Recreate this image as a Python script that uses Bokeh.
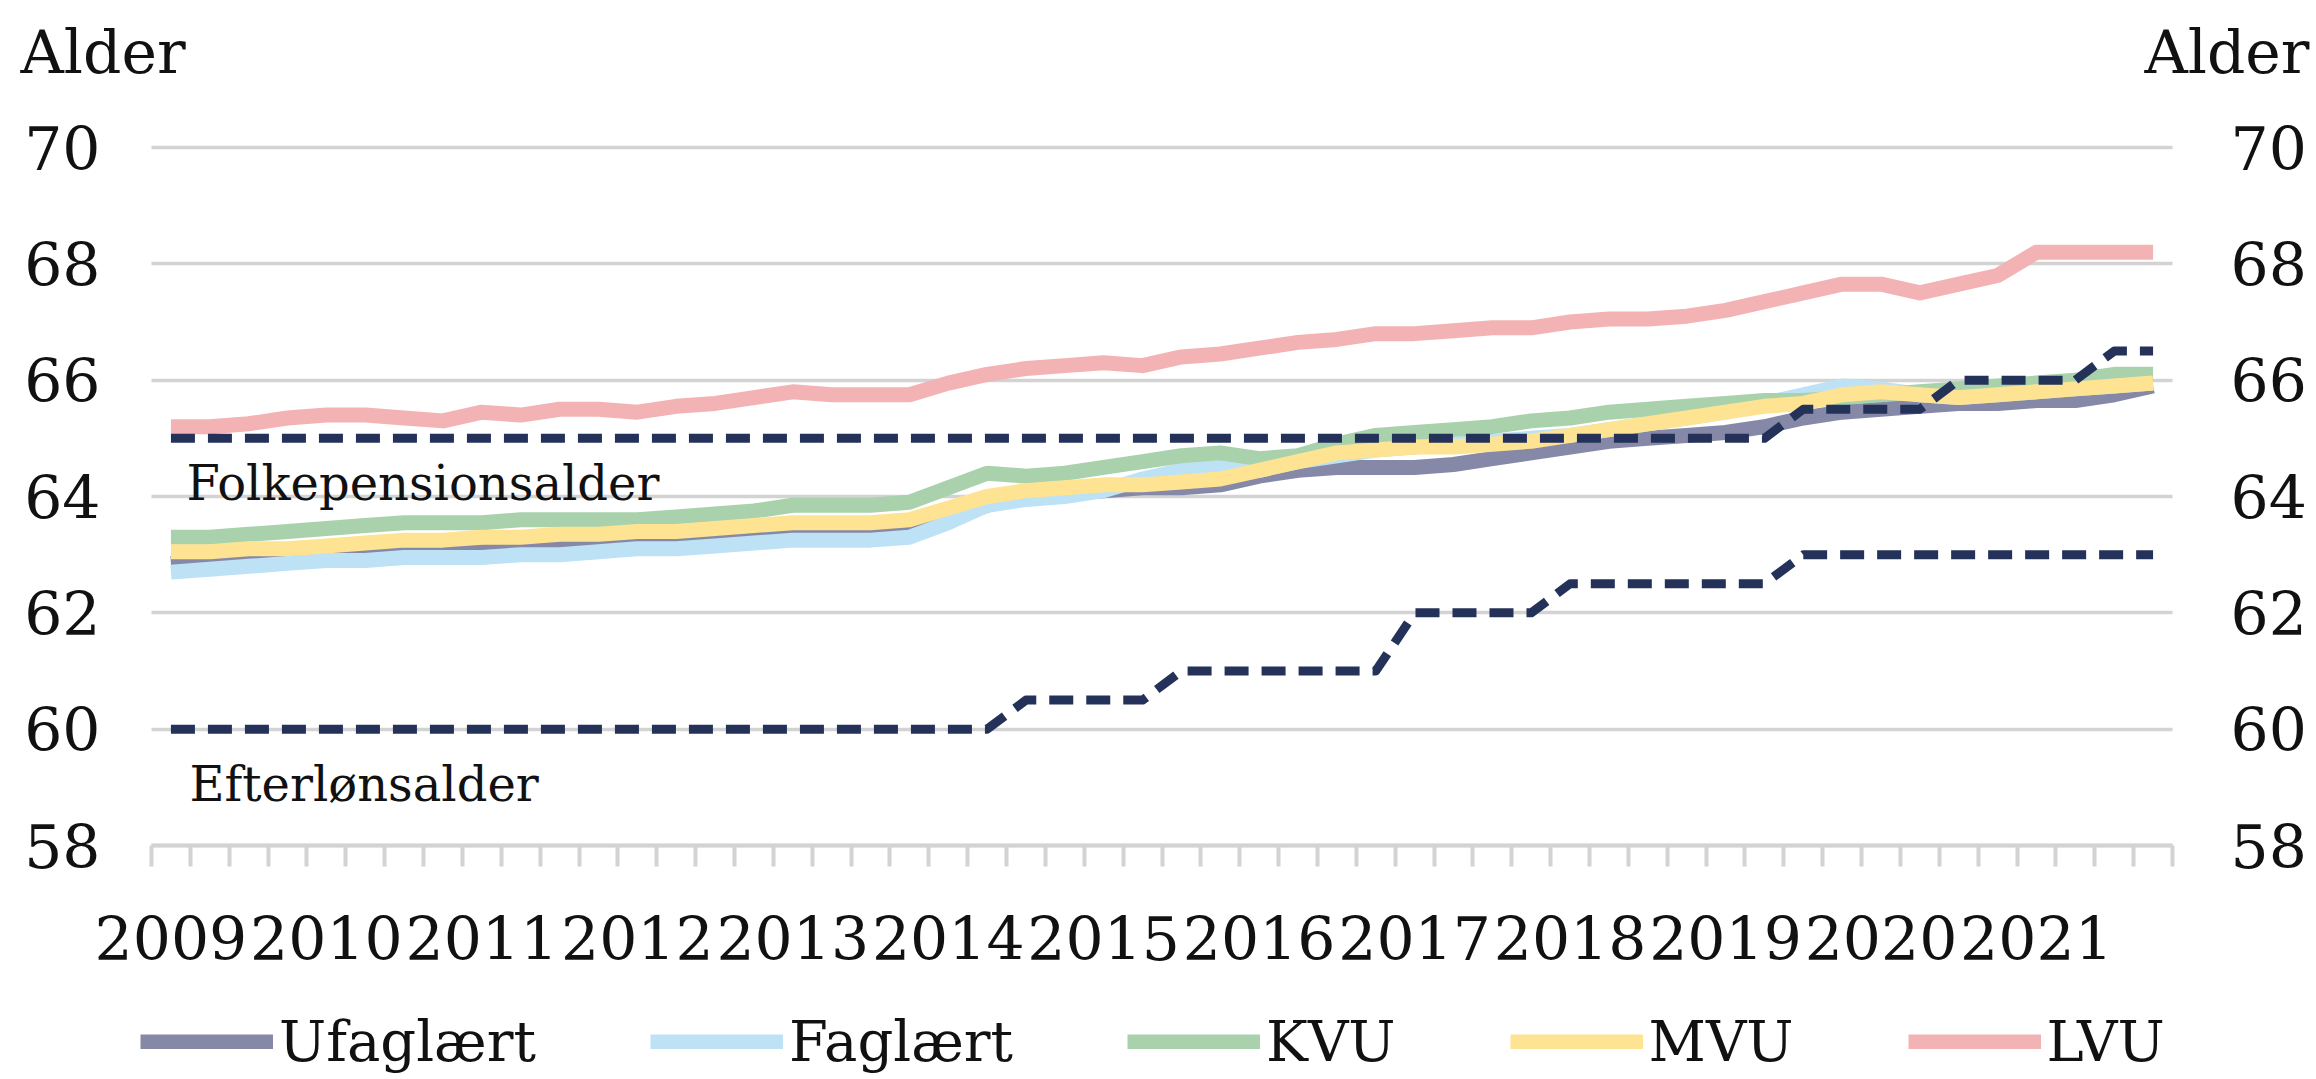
from bokeh.plotting import figure
from bokeh.models import Range1d, LinearAxis, FixedTicker, Label, Legend, LegendItem, Grid
from bokeh.embed import file_html
from bokeh.resources import INLINE

# ---------------- data ----------------
years = ["2009", "2010", "2011", "2012", "2013", "2014", "2015",
         "2016", "2017", "2018", "2019", "2020", "2021"]
quarters = [f"{y}K{q}" for y in years for q in (1, 2, 3, 4)]

ufaglaert = [62.85, 62.9, 62.95, 63.0, 63.05, 63.05, 63.05, 63.05, 63.05, 63.1,
             63.15, 63.2, 63.2, 63.25, 63.25, 63.3, 63.35, 63.35, 63.35, 63.4,
             63.6, 63.85, 64.0, 64.05, 64.1, 64.15, 64.15, 64.2, 64.35, 64.45,
             64.5, 64.5, 64.5, 64.55, 64.65, 64.75, 64.85, 64.95, 65.0, 65.05,
             65.1, 65.2, 65.35, 65.45, 65.5, 65.55, 65.6, 65.6, 65.65, 65.65,
             65.75, 65.9]
faglaert = [62.7, 62.75, 62.8, 62.85, 62.9, 62.9, 62.95, 62.95, 62.95, 63.0,
            63.0, 63.05, 63.1, 63.1, 63.15, 63.2, 63.25, 63.25, 63.25, 63.3,
            63.55, 63.85, 63.95, 64.0, 64.1, 64.3, 64.45, 64.5, 64.45, 64.6,
            64.7, 64.8, 64.85, 64.9, 64.95, 65.0, 65.05, 65.15, 65.25, 65.35,
            65.45, 65.6, 65.75, 65.9, 65.85, 65.75, 65.7, 65.75, 65.8, 65.85,
            65.9, 65.95]
kvu = [63.3, 63.3, 63.35, 63.4, 63.45, 63.5, 63.55, 63.55, 63.55, 63.6,
       63.6, 63.6, 63.6, 63.65, 63.7, 63.75, 63.85, 63.85, 63.85, 63.9,
       64.15, 64.4, 64.35, 64.4, 64.5, 64.6, 64.7, 64.75, 64.65, 64.7,
       64.9, 65.05, 65.1, 65.15, 65.2, 65.3, 65.35, 65.45, 65.5, 65.55,
       65.6, 65.65, 65.65, 65.7, 65.75, 65.8, 65.85, 65.9, 65.95, 66.0,
       66.1, 66.1]
mvu = [63.05, 63.05, 63.1, 63.1, 63.15, 63.2, 63.25, 63.25, 63.3, 63.3,
       63.35, 63.35, 63.4, 63.4, 63.45, 63.5, 63.55, 63.55, 63.55, 63.6,
       63.8, 64.0, 64.1, 64.15, 64.2, 64.2, 64.25, 64.3, 64.45, 64.6,
       64.75, 64.8, 64.85, 64.85, 64.9, 64.95, 65.05, 65.15, 65.25, 65.35,
       65.45, 65.55, 65.6, 65.75, 65.8, 65.75, 65.7, 65.75, 65.8, 65.85,
       65.9, 65.95]
lvu = [65.2, 65.2, 65.25, 65.35, 65.4, 65.4, 65.35, 65.3, 65.45, 65.4,
       65.5, 65.5, 65.45, 65.55, 65.6, 65.7, 65.8, 65.75, 65.75, 65.75,
       65.95, 66.1, 66.2, 66.25, 66.3, 66.25, 66.4, 66.45, 66.55, 66.65,
       66.7, 66.8, 66.8, 66.85, 66.9, 66.9, 67.0, 67.05, 67.05, 67.1,
       67.2, 67.35, 67.5, 67.65, 67.65, 67.5, 67.65, 67.8, 68.2, 68.2,
       68.2, 68.2]
folkepensionsalder = [65.0, 65.0, 65.0, 65.0, 65.0, 65.0, 65.0, 65.0, 65.0, 65.0,
                      65.0, 65.0, 65.0, 65.0, 65.0, 65.0, 65.0, 65.0, 65.0, 65.0,
                      65.0, 65.0, 65.0, 65.0, 65.0, 65.0, 65.0, 65.0, 65.0, 65.0,
                      65.0, 65.0, 65.0, 65.0, 65.0, 65.0, 65.0, 65.0, 65.0, 65.0,
                      65.0, 65.0, 65.5, 65.5, 65.5, 65.5, 66.0, 66.0, 66.0, 66.0,
                      66.5, 66.5]
efterloensalder = [60.0, 60.0, 60.0, 60.0, 60.0, 60.0, 60.0, 60.0, 60.0, 60.0,
                   60.0, 60.0, 60.0, 60.0, 60.0, 60.0, 60.0, 60.0, 60.0, 60.0,
                   60.0, 60.0, 60.5, 60.5, 60.5, 60.5, 61.0, 61.0, 61.0, 61.0,
                   61.0, 61.0, 62.0, 62.0, 62.0, 62.0, 62.5, 62.5, 62.5, 62.5,
                   62.5, 62.5, 63.0, 63.0, 63.0, 63.0, 63.0, 63.0, 63.0, 63.0,
                   63.0, 63.0]
y_ticks = [58, 60, 62, 64, 66, 68, 70]

series_names = ["Ufaglært", "Faglært", "KVU", "MVU", "LVU"]
series_values = [ufaglaert, faglaert, kvu, mvu, lvu]
series_colors = ["#8589A7", "#BDE2F6", "#A9D2AC", "#FEE392", "#F3B3B4"]
dash_color = "#24325A"

# ---------------- layout ----------------
# The frame fills the whole canvas; the axes are pinned (fixed_location)
# to the edges of the plotting area so every text stays inside the frame.
W, H = 2312, 1075
PL, PR, PT, PB = 151, 2172, 147, 845          # plotting area in canvas pixels
XMIN, XMAX = -0.5, len(quarters) - 0.5
YMIN, YMAX = y_ticks[0], y_ticks[-1]
SERIF = "DejaVu Serif"
TXT = "#111111"
GRID = "#D3D3D3"


def sx(px):
    return XMIN + (px - PL) / (PR - PL) * (XMAX - XMIN)


def sy(py):
    return YMAX - (py - PT) / (PB - PT) * (YMAX - YMIN)


p = figure(width=W, height=H, output_backend="svg", toolbar_location=None,
           x_range=Range1d(sx(0), sx(W)), y_range=Range1d(sy(H), sy(0)),
           min_border=0, min_border_left=0, min_border_right=0,
           min_border_top=0, min_border_bottom=0)
p.outline_line_color = None

xs = list(range(len(quarters)))
year_ticks = [quarters.index(y + "K1") for y in years]
boundaries = [i - 0.5 for i in range(len(quarters) + 1)]

xa = p.xaxis[0]
xa.fixed_location = YMIN
xa.bounds = (XMIN, XMAX)
xa.ticker = FixedTicker(ticks=year_ticks, minor_ticks=boundaries)
xa.major_label_overrides = {t: y for t, y in zip(year_ticks, years)}
xa.axis_line_color = GRID
xa.axis_line_width = 4
xa.major_tick_line_color = None
xa.major_tick_out = 0
xa.major_tick_in = 0
xa.minor_tick_line_color = GRID
xa.minor_tick_line_width = 4
xa.minor_tick_out = 21
xa.minor_tick_in = 0
xa.major_label_standoff = 49
xa.major_label_text_font = SERIF
xa.major_label_text_font_size = "60px"
xa.major_label_text_color = TXT

ya = p.yaxis[0]
ya.fixed_location = XMIN
ya.bounds = (YMIN, YMAX)
ya.ticker = FixedTicker(ticks=y_ticks)
ya.axis_line_color = None
ya.major_tick_line_color = None
ya.minor_tick_line_color = None
ya.major_tick_out = 0
ya.major_tick_in = 0
ya.major_label_standoff = 51
ya.major_label_text_font = SERIF
ya.major_label_text_font_size = "60px"
ya.major_label_text_color = TXT

ra = LinearAxis(ticker=FixedTicker(ticks=y_ticks), fixed_location=XMAX,
                bounds=(YMIN, YMAX))
ra.axis_line_color = None
ra.major_tick_line_color = None
ra.minor_tick_line_color = None
ra.major_tick_out = 0
ra.major_tick_in = 0
ra.major_label_standoff = 58
ra.major_label_text_font = SERIF
ra.major_label_text_font_size = "60px"
ra.major_label_text_color = TXT
p.add_layout(ra, "right")

p.xgrid.visible = False
yg = p.ygrid[0]
yg.ticker = FixedTicker(ticks=y_ticks)
yg.bounds = (YMIN, YMAX)
yg.grid_line_color = GRID
yg.grid_line_width = 3.5
if "cross_bounds" in Grid.properties():
    yg.cross_bounds = (XMIN, XMAX)
else:
    yg.visible = False
    p.segment(x0=[XMIN] * len(y_ticks), x1=[XMAX] * len(y_ticks),
              y0=y_ticks, y1=y_ticks, line_color=GRID, line_width=3.5)

# ---------------- series ----------------
renderers = []
for name, vals, col in zip(series_names, series_values, series_colors):
    r = p.line(xs, vals, line_color=col, line_width=15,
               line_join="round", line_cap="butt")
    renderers.append(r)

for vals in (folkepensionsalder, efterloensalder):
    p.line(xs, vals, line_color=dash_color, line_width=9,
           line_dash="24 13", line_join="round", line_cap="butt")

# ---------------- texts ----------------
p.add_layout(Label(x=sx(20), y=sy(51), text="Alder", text_font=SERIF,
                   text_font_size="60px", text_color=TXT,
                   text_align="left", text_baseline="middle"))
p.add_layout(Label(x=sx(2309), y=sy(51), text="Alder", text_font=SERIF,
                   text_font_size="60px", text_color=TXT,
                   text_align="right", text_baseline="middle"))
p.add_layout(Label(x=sx(186), y=64.23, text="Folkepensionsalder", text_font=SERIF,
                   text_font_size="48px", text_color=TXT,
                   text_align="left", text_baseline="middle"))
p.add_layout(Label(x=sx(189), y=59.05, text="Efterlønsalder", text_font=SERIF,
                   text_font_size="48px", text_color=TXT,
                   text_align="left", text_baseline="middle"))

# ---------------- legend ----------------
legend = Legend(items=[LegendItem(label=n, renderers=[r])
                       for n, r in zip(series_names, renderers)],
                orientation="horizontal", location=(140, H - 1041 - 33),
                glyph_width=133, glyph_height=15, label_standoff=6,
                spacing=114, padding=0, margin=0,
                border_line_color=None, background_fill_alpha=0,
                label_text_font=SERIF, label_text_font_size="56px",
                label_text_color=TXT)
p.add_layout(legend)

open("out.html", "w").write(file_html(p, INLINE))
